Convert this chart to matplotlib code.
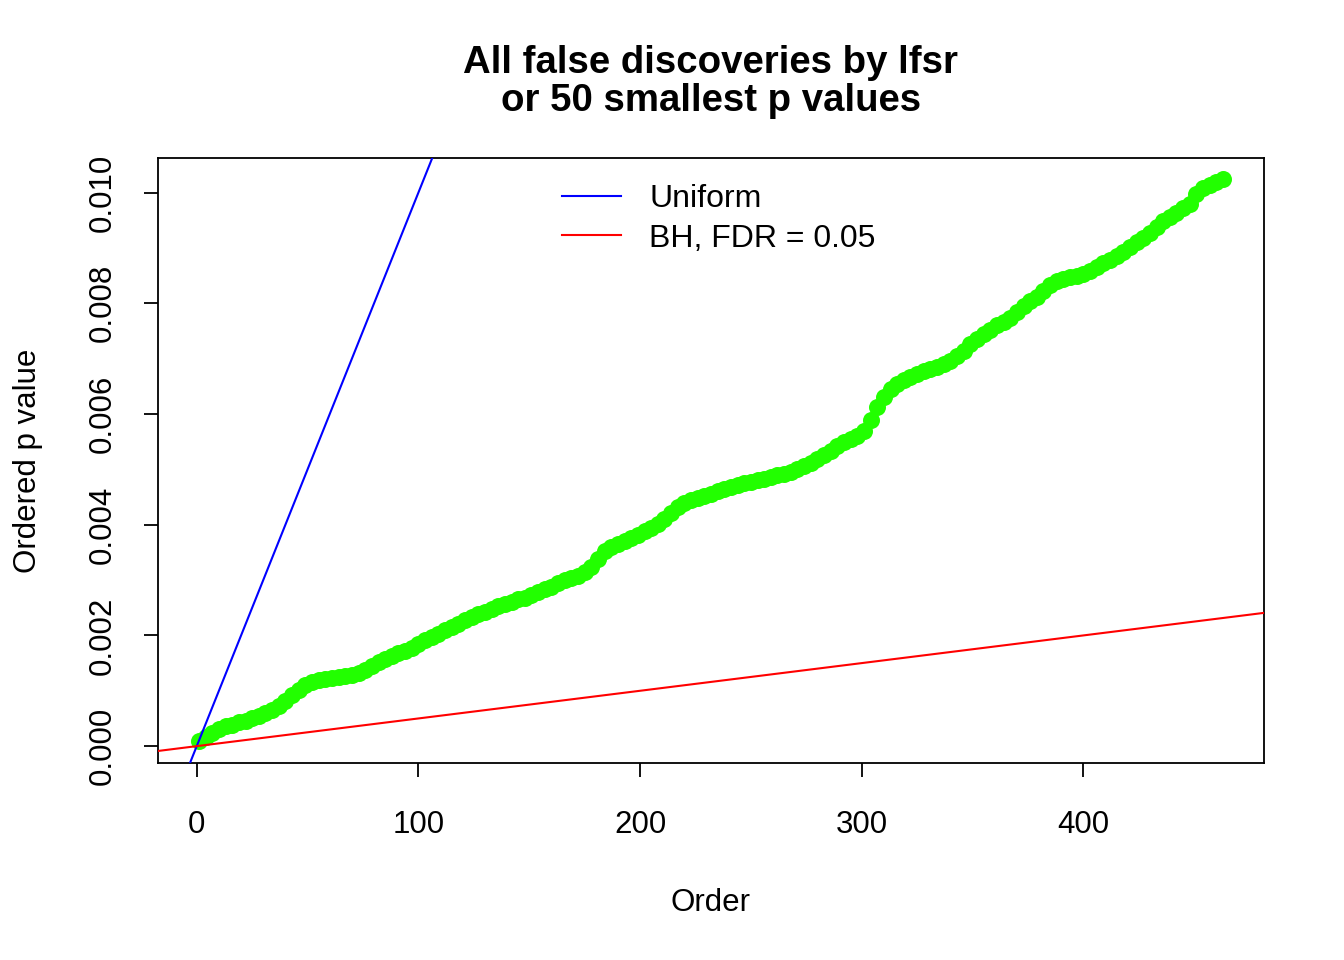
import numpy as np
import matplotlib
matplotlib.use("Agg")
import matplotlib.pyplot as plt
from matplotlib.ticker import FormatStrFormatter

plt.rcParams['font.family'] = ['Liberation Sans', 'DejaVu Sans']

# ordered p values (x 1e-3), read every third rank from 1 to 463
ranks = np.arange(1, 464, 3)
pvals_e3 = [
    0.10, 0.16, 0.24, 0.31, 0.36, 0.39, 0.43, 0.46, 0.50, 0.55,
    0.60, 0.65, 0.72, 0.82, 0.92, 1.02, 1.10, 1.15, 1.19, 1.21,
    1.23, 1.25, 1.27, 1.29, 1.32, 1.37, 1.44, 1.52, 1.58, 1.63,
    1.68, 1.72, 1.77, 1.85, 1.91, 1.97, 2.03, 2.09, 2.15, 2.20,
    2.27, 2.34, 2.39, 2.43, 2.47, 2.53, 2.57, 2.61, 2.65, 2.68,
    2.73, 2.78, 2.83, 2.88, 2.94, 3.00, 3.04, 3.08, 3.14, 3.24,
    3.38, 3.52, 3.60, 3.65, 3.70, 3.76, 3.82, 3.88, 3.94, 4.02,
    4.10, 4.22, 4.32, 4.40, 4.44, 4.48, 4.52, 4.56, 4.60, 4.65,
    4.69, 4.72, 4.75, 4.77, 4.80, 4.83, 4.86, 4.89, 4.92, 4.96,
    5.01, 5.06, 5.12, 5.19, 5.26, 5.33, 5.42, 5.49, 5.55, 5.60,
    5.70, 5.90, 6.12, 6.30, 6.45, 6.55, 6.62, 6.67, 6.72, 6.77,
    6.81, 6.85, 6.90, 6.96, 7.04, 7.14, 7.26, 7.35, 7.44, 7.52,
    7.60, 7.66, 7.74, 7.84, 7.95, 8.05, 8.12, 8.22, 8.33, 8.40,
    8.44, 8.47, 8.50, 8.53, 8.58, 8.65, 8.73, 8.79, 8.85, 8.93,
    9.02, 9.10, 9.18, 9.27, 9.38, 9.48, 9.56, 9.64, 9.72, 9.80,
    9.98, 10.08, 10.14, 10.20, 10.25,
]
pvals = np.array(pvals_e3) / 1000

n_tests = 10000
fdr = 0.05
n_max = 463

fs = 22.5

fig = plt.figure(figsize=(13.44, 9.6), dpi=100)
ax = fig.add_axes([158/1344, 1-763/960, (1264-158)/1344, (763-158)/960])

ax.scatter(ranks, pvals, s=150, color='#22FF00', linewidths=0, zorder=2)
ax.axline((0, 0), slope=1/n_tests, color='#0000FF', lw=1.5, label='Uniform', zorder=3)
ax.axline((0, 0), slope=fdr/n_tests, color='#FF0000', lw=1.5, label='BH, FDR = 0.05', zorder=3)

span_x = n_max - 1
ax.set_xlim(1 - 0.04*span_x, n_max + 0.04*span_x)
ymin, ymax = 0.0001, 0.01022
span_y = ymax - ymin
ax.set_ylim(ymin - 0.04*span_y, ymax + 0.04*span_y)

ax.set_xticks([0, 100, 200, 300, 400])
ax.set_yticks([0, 0.002, 0.004, 0.006, 0.008, 0.010])
ax.yaxis.set_major_formatter(FormatStrFormatter('%.3f'))
ax.tick_params(length=10, width=1.3, labelsize=fs)
ax.tick_params(axis='x', pad=23.5)
ax.tick_params(axis='y', pad=19)
for lab in ax.get_yticklabels():
    lab.set_rotation(90)
    lab.set_va('center')
for sp in ax.spines.values():
    sp.set_linewidth(1.3)

ax.set_xlabel('Order', fontsize=fs, labelpad=35)
ax.set_ylabel('Ordered p value', fontsize=fs, labelpad=32)

fig.text(711/1344, 1-82/960, 'All false discoveries by lfsr\nor 50 smallest p values',
         ha='center', va='center', fontsize=27.6, fontweight='bold', linespacing=1.04)

ax.legend(loc='upper left', bbox_to_anchor=(562/1344, 1-184/960), bbox_transform=fig.transFigure,
          frameon=False, fontsize=23, handlelength=1.85, handletextpad=0.88,
          labelspacing=0.3, borderpad=0, borderaxespad=0)

fig.savefig('out.png', dpi=100)
